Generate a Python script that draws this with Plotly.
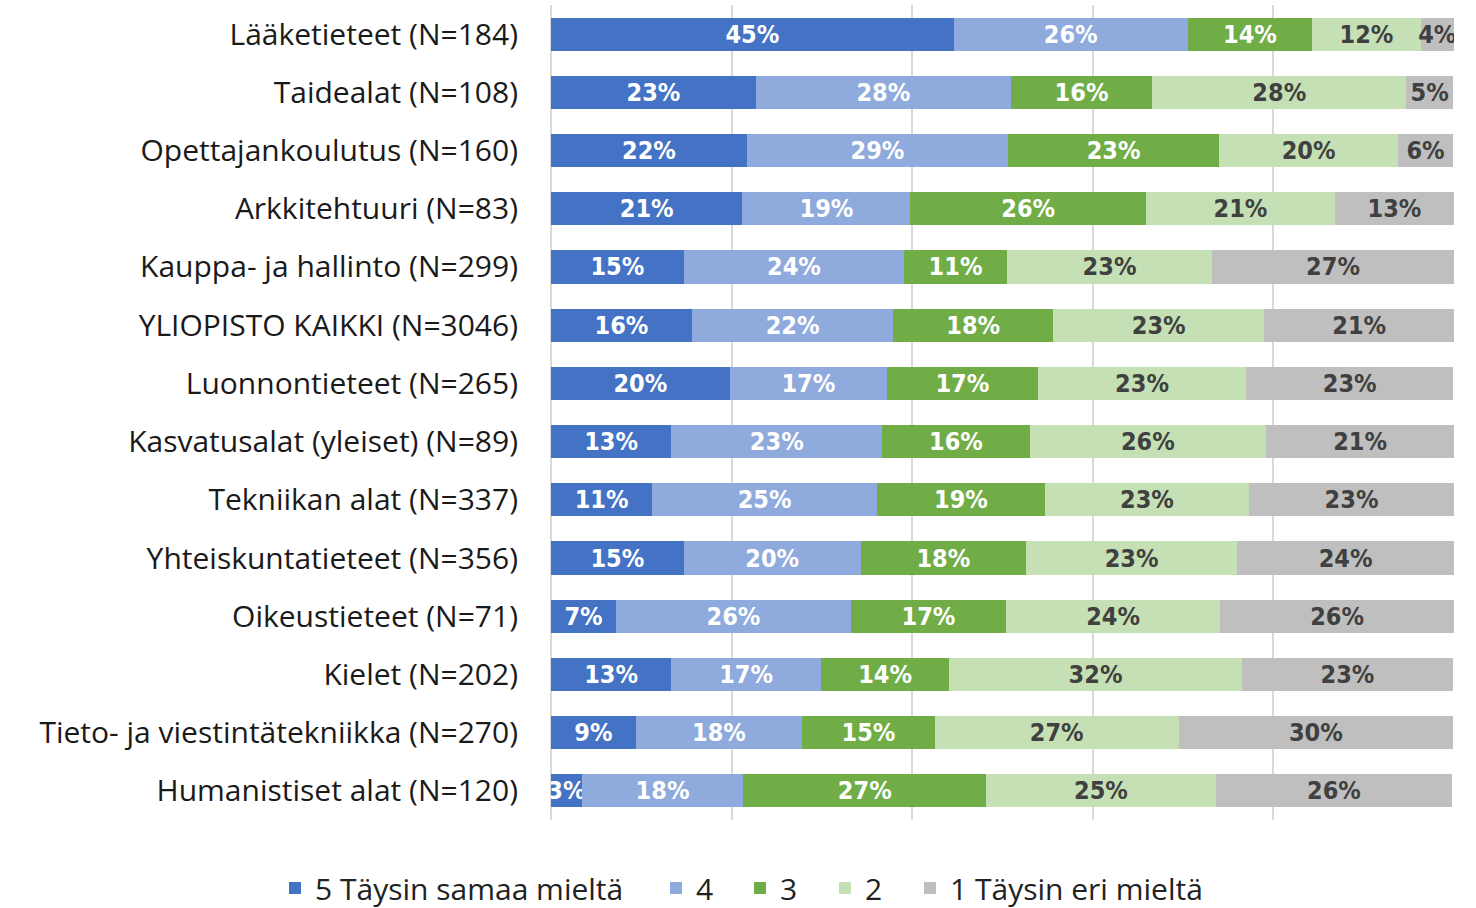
import plotly.graph_objects as go

categories = [
    "Lääketieteet (N=184)",
    "Taidealat (N=108)",
    "Opettajankoulutus (N=160)",
    "Arkkitehtuuri (N=83)",
    "Kauppa- ja hallinto (N=299)",
    "YLIOPISTO KAIKKI (N=3046)",
    "Luonnontieteet (N=265)",
    "Kasvatusalat (yleiset) (N=89)",
    "Tekniikan alat (N=337)",
    "Yhteiskuntatieteet (N=356)",
    "Oikeustieteet (N=71)",
    "Kielet (N=202)",
    "Tieto- ja viestintätekniikka (N=270)",
    "Humanistiset alat (N=120)",
]

s5 = [44.6, 22.7, 21.7, 21.2, 14.7, 15.6, 19.8, 13.3, 11.2, 14.7, 7.2, 13.3, 9.4, 3.4]
s4 = [25.9, 28.2, 28.9, 18.6, 24.4, 22.3, 17.4, 23.4, 24.9, 19.6, 26.0, 16.6, 18.4, 17.9]
s3 = [13.8, 15.7, 23.4, 26.1, 11.4, 17.7, 16.7, 16.3, 18.6, 18.3, 17.2, 14.2, 14.7, 26.9]
s2 = [12.0, 28.1, 19.8, 20.9, 22.7, 23.4, 23.1, 26.2, 22.6, 23.4, 23.7, 32.4, 27.0, 25.4]
s1 = [3.7, 5.2, 6.1, 13.2, 26.8, 21.0, 22.9, 20.8, 22.7, 24.0, 25.9, 23.4, 30.4, 26.2]

series_names = ["5 Täysin samaa mieltä", "4", "3", "2", "1 Täysin eri mieltä"]
series_values = [s5, s4, s3, s2, s1]
colors = ["#4472C4", "#8FAADC", "#70AD47", "#C5E0B4", "#BFBFBF"]
text_colors = ["#FFFFFF", "#FFFFFF", "#FFFFFF", "#404040", "#404040"]

# legend item left positions (px in the 1476-wide page)
legend_px = [287, 668, 752, 837, 922]

bar_font = "DejaVu Sans Condensed, Roboto, sans-serif"
label_font = "Open Sans, sans-serif"
W, H = 1476, 908

fig = go.Figure()
legend_layouts = {}
for i, (name, vals, col, tcol) in enumerate(zip(series_names, series_values, colors, text_colors)):
    lg = "legend" if i == 0 else f"legend{i+1}"
    fig.add_trace(go.Bar(
        y=categories, x=vals, name=name, orientation="h",
        marker=dict(color=col, line=dict(width=0)),
        texttemplate="%{x:.0f}%", textposition="inside",
        insidetextanchor="middle", textangle=0,
        insidetextfont=dict(family=bar_font, size=25, color=tcol, weight="bold"),
        constraintext="none",
        legend=lg,
    ))
    legend_layouts[lg] = dict(
        orientation="h", xref="container", yref="container",
        x=(legend_px[i] - 12) / W, xanchor="left",
        y=(H - 888) / H, yanchor="middle",
        font=dict(family=label_font, size=30, color="#222222"),
        itemwidth=30, bgcolor="rgba(0,0,0,0)",
    )

fig.update_layout(
    barmode="stack",
    bargap=0.43,
    width=W, height=H,
    margin=dict(l=551, r=22, t=5, b=88),
    paper_bgcolor="white", plot_bgcolor="white",
    font=dict(family=label_font, size=30, color="#000000"),
    uniformtext=dict(mode="show", minsize=25),
    showlegend=True,
    xaxis=dict(range=[0, 100], dtick=20, showgrid=True, gridcolor="#D9D9D9",
               gridwidth=2, showticklabels=False, zeroline=True,
               zerolinecolor="#D9D9D9", zerolinewidth=2, fixedrange=True),
    yaxis=dict(autorange="reversed", ticks="", ticklabelstandoff=32,
               showgrid=False, automargin=False,
               tickfont=dict(family=label_font, size=30, color="#1A1A1A")),
    **legend_layouts,
)

fig.write_html("out.html", config={"displayModeBar": False},
               post_script="document.body.style.margin='0';")
